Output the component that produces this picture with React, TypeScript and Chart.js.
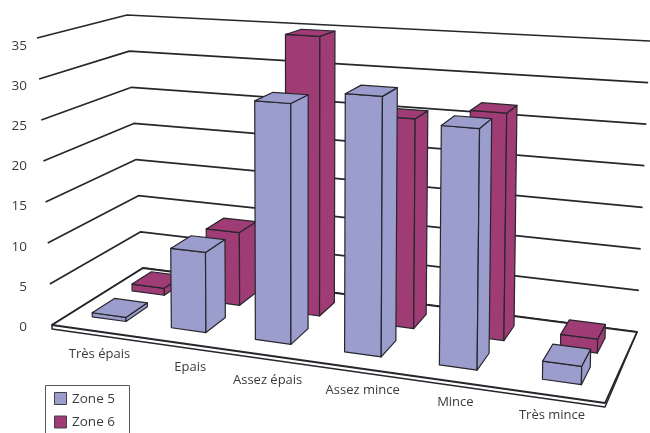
import React, { useEffect, useRef } from "react";
import { Chart, registerables } from "chart.js";

Chart.register(...registerables);

// Chart content
const categories = ["Très épais", "Epais", "Assez épais", "Assez mince", "Mince", "Très mince"];
const zone5 = [0.5, 9.6, 28.2, 29.8, 27.0, 2.0];
const zone6 = [0.9, 9.2, 34.6, 25.3, 26.8, 1.6];
const valueTicks = [0, 5, 10, 15, 20, 25, 30, 35];

// Box corners of the 3D scene, on screen: front-left, front-right, back-right, back-left
type Pt = { x: number; y: number };
const FLOOR_CORNERS: Pt[] = [
  { x: 52, y: 325 },
  { x: 605, y: 403 },
  { x: 637, y: 332 },
  { x: 143, y: 268 },
];
const CEILING_CORNERS: Pt[] = [
  { x: 37, y: 38 },
  { x: 618, y: 73 },
  { x: 650, y: 41 },
  { x: 127, y: 15 },
];

// Scene depth taken up by each series (0 = front edge, 1 = back wall)
const SERIES_DEPTH = [
  [0.18, 0.42],
  [0.62, 0.85],
];
// Sideways offset of each series' bars, per category, as a fraction of the floor width
const SERIES_SHIFT = [
  [0, 0, 0, 0, 0, 0.004],
  [0, -0.002, -0.004, 0.012, 0.01, 0.004],
];
const BAR_WIDTH = 0.067;
const LABEL_NUDGES = [
  [5, 2],
  [9, 3],
  [-3, 3],
  [0, 0],
  [-2, -1],
  [-3, -2],
];

const FONT = '"Open Sans", sans-serif';
const TEXT = "#3a3a3c";
const INK = "#26262c";
const COLOR_5 = "#9b9dcc";
const COLOR_6 = "#a03c75";

// Maps the unit square onto a screen quadrilateral
function quadMapper([p0, p1, p2, p3]: Pt[]) {
  const sx = p0.x - p1.x + p2.x - p3.x;
  const sy = p0.y - p1.y + p2.y - p3.y;
  const dx1 = p1.x - p2.x;
  const dx2 = p3.x - p2.x;
  const dy1 = p1.y - p2.y;
  const dy2 = p3.y - p2.y;
  const den = dx1 * dy2 - dx2 * dy1;
  const g = (sx * dy2 - dx2 * sy) / den;
  const h = (dx1 * sy - sx * dy1) / den;
  const a = p1.x - p0.x + g * p1.x;
  const b = p3.x - p0.x + h * p3.x;
  const d = p1.y - p0.y + g * p1.y;
  const e = p3.y - p0.y + h * p3.y;
  return (u: number, v: number): Pt => {
    const w = g * u + h * v + 1;
    return { x: (a * u + b * v + p0.x) / w, y: (d * u + e * v + p0.y) / w };
  };
}

const floorAt = quadMapper(FLOOR_CORNERS);
const ceilingAt = quadMapper(CEILING_CORNERS);

// Wall points: u across the categories, v depth, t height as a fraction of the value axis
function wallPoint(u: number, v: number, t: number): Pt {
  const a = floorAt(u, v);
  const b = ceilingAt(u, v);
  return { x: a.x + (b.x - a.x) * t, y: a.y + (b.y - a.y) * t };
}

// Full-axis height of the scene at a floor position
function sceneHeight(u: number, v: number) {
  const drop = FLOOR_CORNERS.map((p, i) => p.y - CEILING_CORNERS[i].y);
  const front = drop[0] + (drop[1] - drop[0]) * u;
  const back = drop[3] + (drop[2] - drop[3]) * u;
  return front + (back - front) * v;
}

// Bar points stand almost upright, leaning only slightly away from the centre of view
const LEAN_CENTRE = 300;
const LEAN = 0.018;
function barPoint(u: number, v: number, t: number): Pt {
  const a = floorAt(u, v);
  return { x: a.x + (a.x - LEAN_CENTRE) * LEAN * t, y: a.y - sceneHeight(u, v) * t };
}

// Categories bunch up slightly towards the middle of the floor
const bend = (u: number) => u - 0.095 * u * (1 - u) + 0.002;

function face(ctx: CanvasRenderingContext2D, pts: Pt[], fill: string | null, stroke: string, lw: number) {
  ctx.beginPath();
  pts.forEach((p, i) => (i ? ctx.lineTo(p.x, p.y) : ctx.moveTo(p.x, p.y)));
  ctx.closePath();
  if (fill) {
    ctx.fillStyle = fill;
    ctx.fill();
  }
  ctx.strokeStyle = stroke;
  ctx.lineWidth = lw;
  ctx.lineJoin = "round";
  ctx.stroke();
}

function polyline(ctx: CanvasRenderingContext2D, pts: Pt[], lw: number) {
  ctx.beginPath();
  pts.forEach((p, i) => (i ? ctx.lineTo(p.x, p.y) : ctx.moveTo(p.x, p.y)));
  ctx.strokeStyle = INK;
  ctx.lineWidth = lw;
  ctx.stroke();
}

const scenePlugin = {
  id: "scene3d",
  beforeDatasetsDraw(chart: any) {
    const { ctx, scales } = chart;
    const y = scales.y;
    const fraction = (value: number) => (y.bottom - y.getPixelForValue(value)) / (y.bottom - y.top);
    ctx.save();

    // Floor slab
    const slab = FLOOR_CORNERS.map((p) => ({ x: p.x, y: p.y + 4 }));
    face(ctx, [slab[0], slab[1], FLOOR_CORNERS[2], FLOOR_CORNERS[3], FLOOR_CORNERS[0]], "#fff", INK, 1.5);
    face(ctx, FLOOR_CORNERS, "#fff", INK, 1.8);

    // Gridlines running along the side wall and the back wall
    y.ticks.forEach((tick: any) => {
      if (tick.value === 0) return;
      const t = fraction(tick.value);
      polyline(ctx, [wallPoint(0, 0, t), wallPoint(0, 1, t), wallPoint(1, 1, t)], 1.7);
    });

    // Category labels under the front edge
    ctx.font = `13px ${FONT}`;
    ctx.fillStyle = TEXT;
    ctx.textAlign = "center";
    ctx.textBaseline = "middle";
    categories.forEach((label, i) => {
      const p = floorAt((i + 0.5) / categories.length, 0);
      ctx.fillText(label, p.x + LABEL_NUDGES[i][0], p.y + 21 + LABEL_NUDGES[i][1]);
    });

    // Legend, running off the bottom of the canvas
    ctx.strokeStyle = "#55555a";
    ctx.lineWidth = 1;
    ctx.strokeRect(45.5, 385.5, 84, 60);
    chart.data.datasets.forEach((ds: any, i: number) => {
      const top = 392 + i * 23.5;
      ctx.fillStyle = ds.backgroundColor;
      ctx.fillRect(54.5, top + 0.5, 12, 12);
      ctx.strokeStyle = "#404048";
      ctx.strokeRect(54.5, top + 0.5, 12, 12);
      ctx.fillStyle = TEXT;
      ctx.textAlign = "left";
      ctx.font = `13.5px ${FONT}`;
      ctx.fillText(ds.label, 72, top + 7);
    });
    ctx.restore();
  },
  // Each bar is painted as a box instead of a flat rectangle
  beforeDatasetDraw(chart: any, args: any) {
    const { ctx, scales } = chart;
    const { index, meta } = args;
    const x = scales.x;
    const y = scales.y;
    const [v0, v1] = SERIES_DEPTH[index];
    const color = chart.data.datasets[index].backgroundColor;
    ctx.save();
    meta.data.forEach((_: any, i: number) => {
      const value = chart.data.datasets[index].data[i];
      const across = (x.getPixelForValue(i) - x.left) / (x.right - x.left);
      const c = bend(across) + SERIES_SHIFT[index][i];
      const u0 = c - BAR_WIDTH / 2;
      const u1 = c + BAR_WIDTH / 2;
      const t = (y.bottom - y.getPixelForValue(value)) / (y.bottom - y.top);
      const lw = 1.2;
      face(ctx, [barPoint(u0, v0, 0), barPoint(u1, v0, 0), barPoint(u1, v0, t), barPoint(u0, v0, t)], color, INK, lw);
      face(ctx, [barPoint(u1, v0, 0), barPoint(u1, v1, 0), barPoint(u1, v1, t), barPoint(u1, v0, t)], color, INK, lw);
      face(ctx, [barPoint(u0, v0, t), barPoint(u1, v0, t), barPoint(u1, v1, t), barPoint(u0, v1, t)], color, INK, lw);
    });
    ctx.restore();
    return false;
  },
};

export default function App() {
  const canvasRef = useRef<HTMLCanvasElement>(null);

  useEffect(() => {
    const chart = new Chart(canvasRef.current!, {
      type: "bar",
      data: {
        labels: categories,
        datasets: [
          { label: "Zone 5", data: zone5, backgroundColor: COLOR_5 },
          { label: "Zone 6", data: zone6, backgroundColor: COLOR_6 },
        ],
      },
      plugins: [scenePlugin],
      options: {
        responsive: false,
        animation: false,
        layout: { padding: { top: 46, bottom: 106, left: 0, right: 0 } },
        plugins: { legend: { display: false }, tooltip: { enabled: false } },
        scales: {
          x: { display: false },
          y: {
            min: 0,
            max: 35,
            afterBuildTicks: (axis: any) => {
              axis.ticks = valueTicks.map((value) => ({ value }));
            },
            afterFit: (axis: any) => {
              axis.width = 27;
            },
            grid: { display: false, drawTicks: false },
            border: { display: false },
            ticks: {
              padding: 0,
              color: TEXT,
              font: { family: '"Open Sans"', size: 13.5 },
            },
          },
        },
      },
    } as any);
    return () => chart.destroy();
  }, []);

  return (
    <div style={{ position: "fixed", left: 0, top: 0, width: 650, height: 433, background: "#fff" }}>
      <canvas ref={canvasRef} width={650} height={433} style={{ display: "block" }} />
    </div>
  );
}
